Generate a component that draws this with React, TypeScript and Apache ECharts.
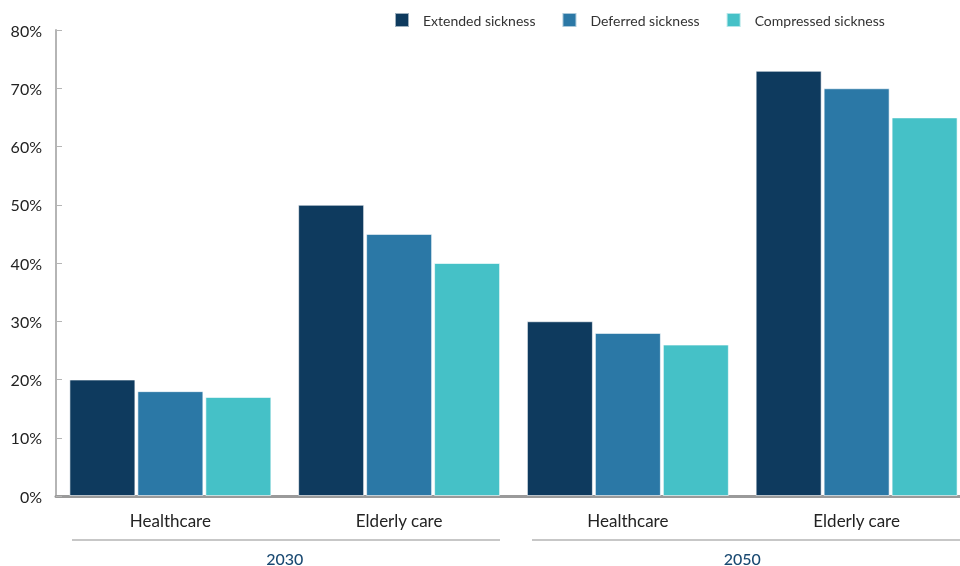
import React, { useEffect, useRef } from "react";
import * as echarts from "echarts";

const categories = ["Healthcare", "Elderly care", "Healthcare", "Elderly care"];
const groups = ["2030", "2050"];
const seriesNames = ["Extended sickness", "Deferred sickness", "Compressed sickness"];
const extended = [20, 50, 30, 73];
const deferred = [18, 45, 28, 70];
const compressed = [17, 40, 26, 65];
const colors = ["#0e3a5e", "#2b78a6", "#45c1c7"];
const yTicks = [0, 10, 20, 30, 40, 50, 60, 70, 80];

export default function App() {
  const ref = useRef<HTMLDivElement>(null);
  useEffect(() => {
    if (!ref.current) return;
    const chart = echarts.init(ref.current, null, { renderer: "svg" });
    const font = "Lato, 'Open Sans', sans-serif";
    const values = [extended, deferred, compressed];
    chart.setOption({
      animation: false,
      textStyle: { fontFamily: font },
      legend: {
        top: 7,
        left: 389,
        itemWidth: 14,
        itemHeight: 14,
        itemGap: 26,
        icon: "rect",
        textStyle: { fontSize: 14, color: "#333", fontFamily: font, padding: [0, 0, 0, 9] },
        data: seriesNames,
      },
      grid: { left: 56, right: 0, top: 30, bottom: 70, containLabel: false },
      xAxis: [
        {
          type: "category",
          data: categories,
          axisLine: { lineStyle: { color: "#9a9a9a", width: 3 } },
          axisTick: { show: false },
          axisLabel: { fontSize: 17, color: "#222", margin: 16, fontFamily: font },
        },
        {
          type: "category",
          data: groups,
          position: "bottom",
          offset: 54,
          axisLine: { show: false },
          axisTick: { show: false },
          axisLabel: { fontSize: 16, color: "#1a4a72", margin: 0, fontFamily: font, fontWeight: 500 },
        },
      ],
      yAxis: {
        type: "value",
        min: yTicks[0],
        max: yTicks[yTicks.length - 1],
        interval: 10,
        splitLine: { show: false },
        axisLine: { show: true, lineStyle: { color: "#b5b5b5", width: 2 } },
        axisTick: { show: true, inside: true, length: 6, lineStyle: { color: "#b5b5b5" } },
        axisLabel: { formatter: "{value}%", fontSize: 16, color: "#222", margin: 14, fontFamily: font },
      },
      graphic: [
        { type: "line", shape: { x1: 72, y1: 540, x2: 500, y2: 540 }, style: { stroke: "#b5b5b5", lineWidth: 1.5 } },
        { type: "line", shape: { x1: 532, y1: 540, x2: 971, y2: 540 }, style: { stroke: "#b5b5b5", lineWidth: 1.5 } },
      ],
      series: seriesNames.map((name, i) => ({
        name,
        type: "bar",
        xAxisIndex: 0,
        data: values[i],
        barWidth: 66,
        barGap: "3%",
        itemStyle: { color: colors[i], borderColor: "rgba(255,255,255,0.6)", borderWidth: 1 },
      })),
    });
    return () => chart.dispose();
  }, []);
  return (
    <div style={{ position: "fixed", left: 0, top: 0, width: 960, height: 566, overflow: "hidden" }}>
      <div ref={ref} style={{ width: 971, height: 566 }} />
    </div>
  );
}
